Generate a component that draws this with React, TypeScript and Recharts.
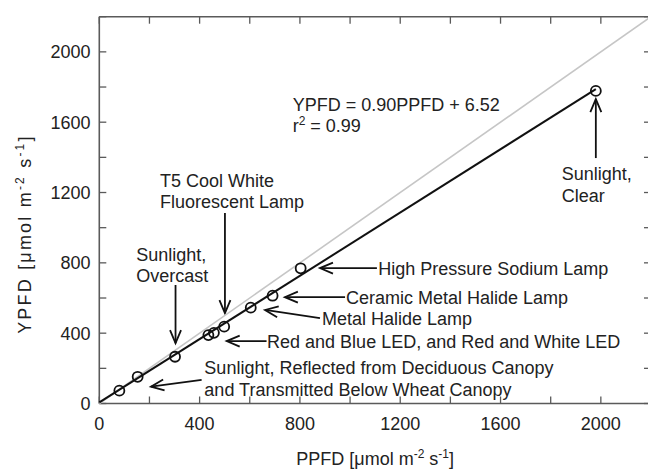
import React from 'react';
import { ScatterChart, Scatter, XAxis, YAxis, ReferenceLine, ReferenceDot, Label } from 'recharts';

// ---- data ----
const axisTicks = [0, 200, 400, 600, 800, 1000, 1200, 1400, 1600, 1800, 2000, 2200];
const axisMax = 2200;
const ppfd = [80, 153, 302, 435, 457, 498, 604, 691, 803, 1980];
const ypfd = [73, 152, 266, 389, 402, 437, 545, 613, 769, 1778];
const identityX = [0, 2200];
const identityY = [0, 2200];
const fitX = [0, 1980];
const fitY = [6.52, 1788];

const noteTexts = [
  ['YPFD = 0.90PPFD + 6.52', 'r^2 = 0.99'],
  ['T5 Cool White', 'Fluorescent Lamp'],
  ['Sunlight,', 'Overcast'],
  ['Sunlight,', 'Clear'],
  ['High Pressure Sodium Lamp'],
  ['Ceramic Metal Halide Lamp'],
  ['Metal Halide Lamp'],
  ['Red and Blue LED, and Red and White LED'],
  ['Sunlight, Reflected from Deciduous Canopy', 'and Transmitted Below Wheat Canopy'],
];
const noteX = [771, 242, 147, 1844, 1112, 984, 888, 669, 419];
const noteY = [1666, 1234, 813, 1271, 733, 566, 449, 313, 165];

const arrowFromX = [1980, 501, 304, 1107, 980, 880, 667, 408];
const arrowFromY = [1396, 1083, 674, 770, 605, 486, 355, 134];
const arrowToX = [1980, 501, 304, 880, 740, 661, 508, 206];
const arrowToY = [1731, 514, 343, 770, 605, 532, 355, 96];

const xTitle = 'PPFD [μmol m^-2 s^-1]';
const yTitle = 'YPFD [μmol m^-2 s^-1]';

// ---- derived tables ----
const points = ppfd.map((x, i) => ({ x, y: ypfd[i] }));
const identity = identityX.map((x, i) => ({ x, y: identityY[i] }));
const fit = fitX.map((x, i) => ({ x, y: fitY[i] }));

const FONT = '"Liberation Sans", Arial, Helvetica, sans-serif';
const TEXT = '#222';
const AXIS = '#5a5a5a';
const INK = '#111';
const TICK = 7;
const MARGIN = { top: 16.7, right: 39, bottom: 0, left: 0 };

function rich(text: string) {
  const re = /\^([^\s\]]+)/g;
  const parts: React.ReactNode[] = [];
  let last = 0;
  let k = 0;
  let raised = false;
  let m: RegExpExecArray | null;
  while ((m = re.exec(text)) !== null) {
    if (m.index > last) {
      parts.push(
        <tspan key={k++} dy={raised ? 7 : undefined} style={{ whiteSpace: 'pre' }}>
          {text.slice(last, m.index)}
        </tspan>
      );
      raised = false;
    }
    parts.push(
      <tspan key={k++} fontSize={12} dy={raised ? 0 : -7}>
        {m[1]}
      </tspan>
    );
    raised = true;
    last = re.lastIndex;
  }
  if (last < text.length) {
    parts.push(
      <tspan key={k++} dy={raised ? 7 : undefined} style={{ whiteSpace: 'pre' }}>
        {text.slice(last)}
      </tspan>
    );
  }
  return parts;
}

const makeNote = (lines: string[]) => (props: any) => {
  const vb = props.viewBox || {};
  const x = vb.x ?? 0;
  const y = vb.y ?? 0;
  return (
    <g>
      {lines.map((ln, i) => (
        <text key={i} x={x} y={y + i * 21.5} fontSize={18} fill={TEXT} fontFamily={FONT} textAnchor="start">
          {rich(ln)}
        </text>
      ))}
    </g>
  );
};

const ArrowShape = (p: any) => {
  const { x1, y1, x2, y2 } = p;
  const ang = Math.atan2(y2 - y1, x2 - x1);
  const L = 13;
  const W = 5.5;
  const bx = x2 - L * Math.cos(ang);
  const by = y2 - L * Math.sin(ang);
  const nx = -Math.sin(ang);
  const ny = Math.cos(ang);
  return (
    <g>
      <line x1={x1} y1={y1} x2={x2} y2={y2} stroke={INK} strokeWidth={1.8} />
      <polyline
        points={`${bx + nx * W},${by + ny * W} ${x2},${y2} ${bx - nx * W},${by - ny * W}`}
        fill="none"
        stroke={INK}
        strokeWidth={1.8}
      />
    </g>
  );
};

// x-axis title plus the mirrored top/right frame edges (with inward ticks) of the plot box
const XTitleAndFrame = (props: any) => {
  const vb = props.viewBox;
  const left = vb.x;
  const right = vb.x + vb.width;
  const bottom = vb.y;
  const top = MARGIN.top;
  return (
    <g>
      <line x1={left} y1={top} x2={right} y2={top} stroke={AXIS} strokeWidth={1.6} />
      <line x1={right} y1={top} x2={right} y2={bottom} stroke={AXIS} strokeWidth={1.6} />
      {axisTicks.map((t) => {
        const px = left + (vb.width * t) / axisMax;
        return <line key={`t${t}`} x1={px} y1={top} x2={px} y2={top + TICK} stroke={AXIS} strokeWidth={1.3} />;
      })}
      {axisTicks.map((t) => {
        const py = bottom - ((bottom - top) * t) / axisMax;
        return <line key={`r${t}`} x1={right} y1={py} x2={right - TICK} y2={py} stroke={AXIS} strokeWidth={1.3} />;
      })}
      <text x={left + vb.width / 2} y={vb.y + 61} textAnchor="middle" fontSize={18} fill={TEXT} fontFamily={FONT}>
        {rich(xTitle)}
      </text>
    </g>
  );
};

const YTitle = (props: any) => {
  const vb = props.viewBox;
  const cx = vb.x + 31.5;
  const cy = vb.y + vb.height / 2 + 24;
  return (
    <text
      x={cx}
      y={cy}
      transform={`rotate(-90, ${cx}, ${cy})`}
      textAnchor="middle"
      fontSize={18}
      letterSpacing={2.2}
      fill={TEXT}
      fontFamily={FONT}
    >
      {rich(yTitle)}
    </text>
  );
};

const Circle = (p: any) => <circle cx={p.cx} cy={p.cy} r={5} fill="none" stroke={INK} strokeWidth={1.8} />;
const NoMark = () => <g />;

const labelEvery400 = (v: number) => (v % 400 === 0 ? String(v) : '');

export default function App() {
  return (
    <div
      style={{
        position: 'fixed',
        left: 0,
        top: 0,
        width: 648,
        height: 470,
        overflow: 'hidden',
        background: '#fff',
        fontFamily: FONT,
      }}
    >
      <ScatterChart width={690} height={470} margin={MARGIN}>
        <XAxis
          dataKey="x"
          type="number"
          domain={[0, axisMax]}
          ticks={axisTicks}
          interval={0}
          height={66.5}
          tickSize={-TICK}
          tickMargin={21}
          tickFormatter={labelEvery400}
          tick={{ fontSize: 18, fill: TEXT, fontFamily: FONT }}
          axisLine={{ stroke: AXIS, strokeWidth: 1.6 }}
          tickLine={{ stroke: AXIS, strokeWidth: 1.3 }}
        >
          <Label content={XTitleAndFrame} />
        </XAxis>
        <YAxis
          dataKey="y"
          type="number"
          domain={[0, axisMax]}
          ticks={axisTicks}
          interval={0}
          width={99.3}
          tickSize={-TICK}
          tickMargin={15.8}
          tickFormatter={labelEvery400}
          tick={{ fontSize: 18, fill: TEXT, fontFamily: FONT }}
          axisLine={{ stroke: AXIS, strokeWidth: 1.6 }}
          tickLine={{ stroke: AXIS, strokeWidth: 1.3 }}
        >
          <Label content={YTitle} />
        </YAxis>

        <Scatter
          data={identity}
          line={{ stroke: '#c6c6c6', strokeWidth: 1.6 }}
          shape={NoMark}
          isAnimationActive={false}
        />
        <Scatter data={fit} line={{ stroke: INK, strokeWidth: 2 }} shape={NoMark} isAnimationActive={false} />
        <Scatter data={points} shape={Circle} isAnimationActive={false} />

        {arrowFromX.map((fx, i) => (
          <ReferenceLine
            key={`a${i}`}
            segment={[
              { x: fx, y: arrowFromY[i] },
              { x: arrowToX[i], y: arrowToY[i] },
            ]}
            shape={ArrowShape}
            stroke={INK}
          />
        ))}
        {noteTexts.map((lines, i) => (
          <ReferenceDot
            key={`n${i}`}
            x={noteX[i]}
            y={noteY[i]}
            r={0}
            fill="none"
            stroke="none"
            label={makeNote(lines)}
          />
        ))}
      </ScatterChart>
    </div>
  );
}
